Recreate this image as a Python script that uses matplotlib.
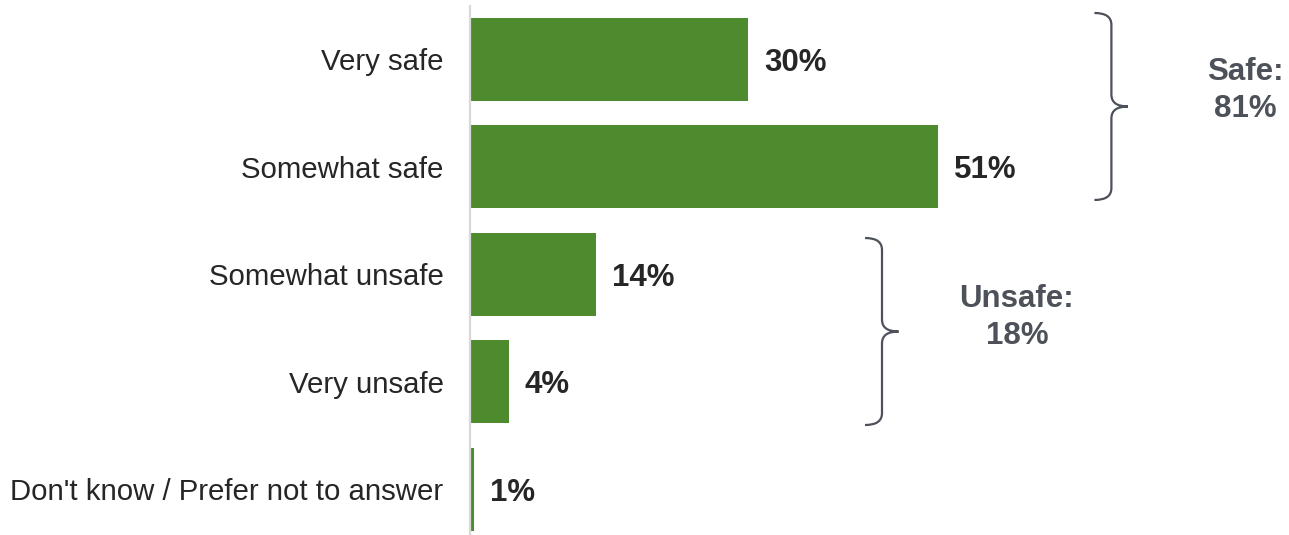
import matplotlib
matplotlib.use("Agg")
import matplotlib.pyplot as plt
from matplotlib.path import Path
from matplotlib.patches import PathPatch

categories = ["Very safe", "Somewhat safe", "Somewhat unsafe", "Very unsafe",
              "Don't know / Prefer not to answer"]
values = [30.3, 51, 13.7, 4.2, 0.45]
value_labels = ["30%", "51%", "14%", "4%", "1%"]

group_labels = ["Safe:\n81%", "Unsafe:\n18%"]
group_spans = [(-0.433, 1.308), (1.662, 3.403)]   # brace extents (bar index units)
group_brace_x = [69.9, 44.9]
group_text_pos = [(84.5, 0.29), (59.6, 2.4)]

GREEN = "#4d8b2e"
TXT = "#262626"
GRP = "#4d5159"

plt.rcParams["font.family"] = ["Liberation Sans", "Arial", "DejaVu Sans"]

fig = plt.figure(figsize=(12.89, 5.35), dpi=100)
ax = fig.add_axes([470 / 1289, 0.0, 1 - 470 / 1289, 1 - 6 / 535])

y = list(range(len(categories)))
ax.barh(y, values, height=0.773, color=GREEN, left=0)
ax.set_xlim(0, 819 / 9.176)
ax.set_ylim(4.427, -0.498)

for yi, v, lab in zip(y, values, value_labels):
    ax.text(v + 1.75, yi, lab, va="center_baseline", ha="left", fontsize=22.5,
            fontweight="bold", color=TXT)

ax.set_yticks(y)
ax.set_yticklabels(categories, fontsize=21.2, color=TXT)
ax.tick_params(axis="y", length=0, pad=19)
ax.set_xticks([])
for s in ["top", "right", "bottom"]:
    ax.spines[s].set_visible(False)
ax.spines["left"].set_color("#d9d9d9")
ax.spines["left"].set_linewidth(1.6)


def brace(ax, xv, y0, y1, hook=1.85, tip=1.8, r=0.11):
    ym = (y0 + y1) / 2
    x0 = xv - hook
    xt = xv + tip
    verts = [(x0, y0), (xv, y0), (xv, y0 + r),
             (xv, ym - r), (xv, ym), (xt, ym),
             (xt, ym), (xv, ym), (xv, ym + r),
             (xv, y1 - r), (xv, y1), (x0, y1)]
    codes = [Path.MOVETO, Path.CURVE3, Path.CURVE3,
             Path.LINETO, Path.CURVE3, Path.CURVE3,
             Path.MOVETO, Path.CURVE3, Path.CURVE3,
             Path.LINETO, Path.CURVE3, Path.CURVE3]
    ax.add_patch(PathPatch(Path(verts, codes), fill=False, edgecolor=GRP,
                           linewidth=1.6, clip_on=False))


for (a, b), xv, (tx, ty), lab in zip(group_spans, group_brace_x,
                                     group_text_pos, group_labels):
    brace(ax, xv, a, b)
    ax.text(tx, ty, lab, ha="center", va="center", fontsize=22.5,
            fontweight="bold", color=GRP, linespacing=1.32)

fig.savefig("out.png", dpi=100)
